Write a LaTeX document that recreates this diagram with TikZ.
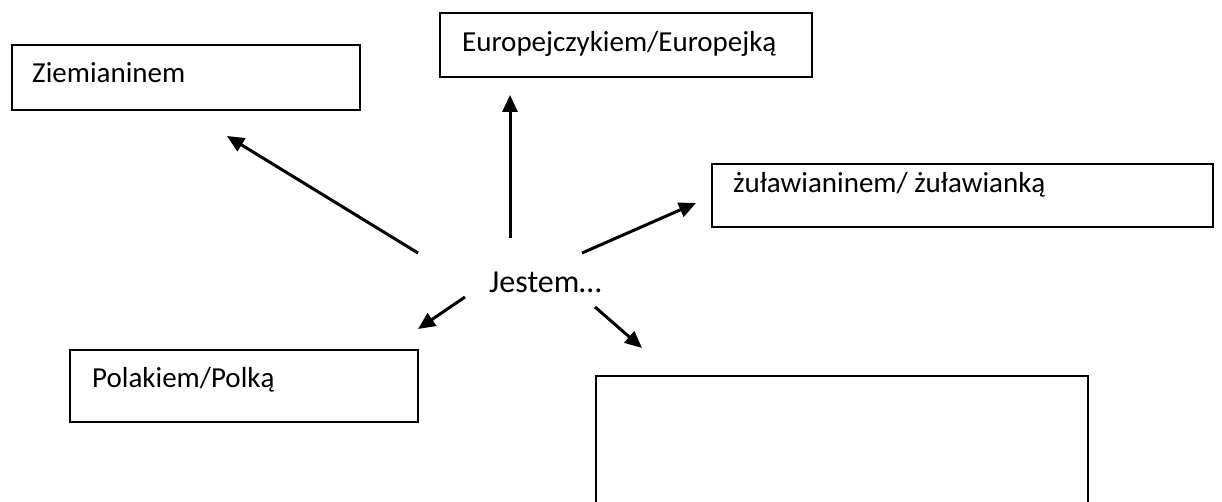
\documentclass[tikz,border=0pt]{standalone}
\usepackage{fontspec}
\setmainfont{Carlito}
\usetikzlibrary{arrows.meta}

\tikzset{
  answerbox/.style={draw, line width=1.6pt, inner sep=0pt},
  answertext/.style={anchor=base west, inner sep=0pt, font=\fontsize{29}{34}\selectfont},
  pointer/.style={-{Triangle[length=17pt,width=15pt]}, line width=3pt},
}

\begin{document}
\begin{tikzpicture}[x=1pt,y=-1pt]
  \useasboundingbox (0,0) rectangle (1222,502);

  % answer boxes
  \node[answerbox, minimum width=348pt, minimum height=65pt] (ziem)  at (186,77.5)  {};
  \node[answerbox, minimum width=372pt, minimum height=64pt] (europ) at (626,45)    {};
  \node[answerbox, minimum width=501pt, minimum height=63pt] (zulaw) at (962.5,195.5) {};
  \node[answerbox, minimum width=348pt, minimum height=72pt] (polak) at (244,386)   {};
  \node[answerbox, minimum width=492pt, minimum height=144pt] (empty) at (842,448)  {};

  % texts
  \node[answertext] (ziemtext)  at (32,83)  {Ziemianinem};
  \node[answertext] (europtext) at (462,52) {Europejczykiem/Europejką};
  \node[answertext] (zulawtext) at (733,193) {żuławianinem/ żuławianką};
  \node[answertext] (polaktext) at (92,387) {Polakiem/Polką};
  \node[answertext, font=\fontsize{32}{38}\selectfont] (jestem) at (489,292) {Jestem…};

  % arrow ends
  \coordinate (ziemtail)  at (418,253);
  \coordinate (ziemtip)   at (227,136);
  \coordinate (europtail) at (510,238);
  \coordinate (europtip)  at (510,95);
  \coordinate (zulawtail) at (582,253);
  \coordinate (zulawtip)  at (696,203);
  \coordinate (polaktail) at (465,297);
  \coordinate (polaktip)  at (418,329);
  \coordinate (emptytail) at (595,307);
  \coordinate (emptytip)  at (642,348);

  \draw[pointer] (ziemtail)  -- (ziemtip);
  \draw[pointer] (europtail) -- (europtip);
  \draw[pointer] (zulawtail) -- (zulawtip);
  \draw[pointer] (polaktail) -- (polaktip);
  \draw[pointer] (emptytail) -- (emptytip);

\end{tikzpicture}
\end{document}
